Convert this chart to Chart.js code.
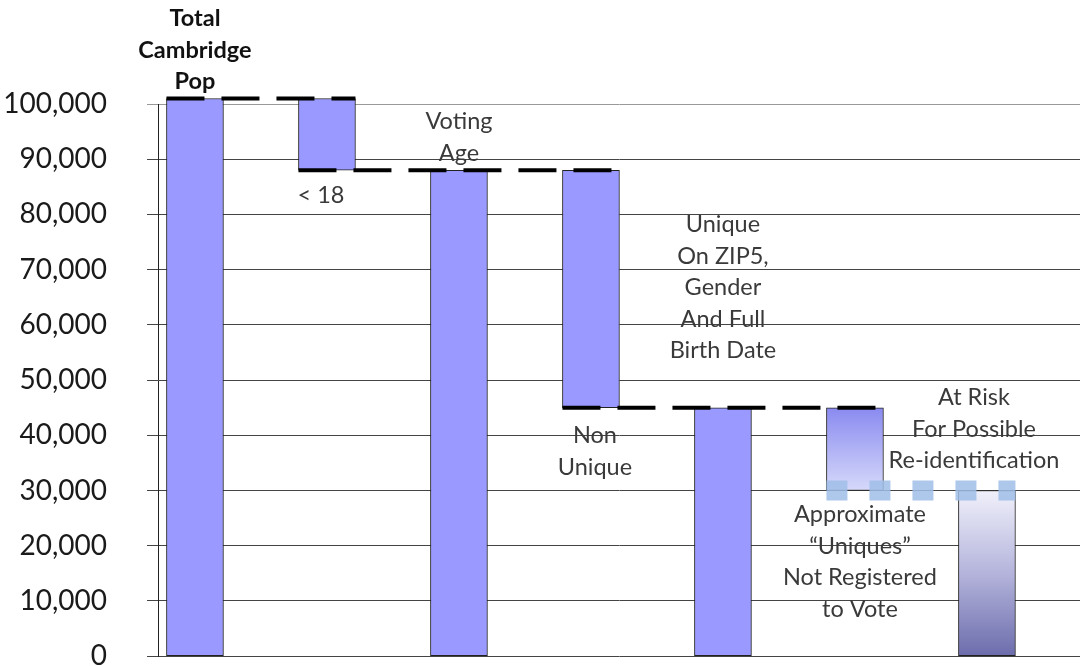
<!DOCTYPE html>
<html>
<head>
<meta charset="utf-8">
<script src="https://cdn.jsdelivr.net/npm/chart.js@4"></script>
<style>
  html, body { margin: 0; padding: 0; background: #fff; overflow: hidden; }
  #wrap { position: relative; width: 1090px; height: 713px; }
</style>
</head>
<body>
<div id="wrap"><canvas id="chart"></canvas></div>
<script>
// Waterfall: Cambridge population down to people at risk of re-identification

const categories = ['Total Cambridge Pop', '< 18', 'Voting Age', 'Non Unique',
  'Unique On ZIP5, Gender And Full Birth Date',
  'Approximate “Uniques” Not Registered to Vote',
  'At Risk For Possible Re-identification'];
const barLow  = [0, 88000, 0, 45000, 0, 30000, 0];
const barHigh = [101000, 101000, 88000, 88000, 45000, 45000, 30000];
const labelLines = [
  ['Total', 'Cambridge', 'Pop'],
  ['< 18'],
  ['Voting', 'Age'],
  ['Non', 'Unique'],
  ['Unique', 'On ZIP5,', 'Gender', 'And Full', 'Birth Date'],
  ['Approximate', '“Uniques”', 'Not Registered', 'to Vote'],
  ['At Risk', 'For Possible', 'Re-identification']
];

// where each caption sits relative to its bar (side, gap in px, x shift)
const labelPlace = [
  { side: 'top', gap: 17, dx: 0, bold: true },
  { side: 'bottom', gap: 25, dx: -6 },
  { side: 'top', gap: 17, dx: 0 },
  { side: 'bottom', gap: 28, dx: 4 },
  { side: 'top', gap: 57, dx: 0 },
  { side: 'bottom', gap: 24, dx: 5 },
  { side: 'top', gap: 30, dx: -13 }
];

const FONT = 'Lato, "Open Sans", sans-serif';

function barFill(ctx) {
  const i = ctx.dataIndex;
  const chart = ctx.chart;
  const y = chart.scales.y;
  if (!chart.chartArea || !y || (i !== 5 && i !== 6)) return '#9999ff';
  const top = y.getPixelForValue(barHigh[i]);
  const bot = y.getPixelForValue(barLow[i]);
  const g = chart.ctx.createLinearGradient(0, top, 0, bot);
  if (i === 5) {
    g.addColorStop(0, '#8a8af0');
    g.addColorStop(1, '#d6d9fa');
  } else {
    g.addColorStop(0, '#f0f0fb');
    g.addColorStop(0.5, '#b4b4dc');
    g.addColorStop(1, '#6c6cac');
  }
  return g;
}

// dashed level lines joining bars that share a level
const connectors = {
  id: 'connectors',
  afterDatasetsDraw(chart) {
    const ctx = chart.ctx;
    const y = chart.scales.y;
    const bars = chart.getDatasetMeta(0).data;
    const levels = [...new Set(barHigh.concat(barLow))].filter(v => v > 0).sort((a, b) => b - a);
    levels.forEach((v, li) => {
      const idx = [];
      barHigh.forEach((h, i) => { if (h === v || barLow[i] === v) idx.push(i); });
      if (idx.length < 2) return;
      const a = bars[Math.min(...idx)], b = bars[Math.max(...idx)];
      const x1 = a.x - a.width / 2, x2 = b.x + b.width / 2;
      const py = y.getPixelForValue(v);
      ctx.save();
      ctx.beginPath();
      if (li === levels.length - 1) {
        ctx.strokeStyle = 'rgba(160,190,232,0.85)';
        ctx.lineWidth = 20;
        ctx.setLineDash([21, 22]);
      } else {
        ctx.strokeStyle = '#000';
        ctx.lineWidth = 4;
        ctx.setLineDash([38, 17]);
      }
      ctx.moveTo(x1, py);
      ctx.lineTo(x2, py);
      ctx.stroke();
      ctx.restore();
    });
  }
};

// captions over / under each bar
const captions = {
  id: 'captions',
  afterDraw(chart) {
    const ctx = chart.ctx;
    const y = chart.scales.y;
    const bars = chart.getDatasetMeta(0).data;
    const lh = 31.5;
    ctx.save();
    ctx.textAlign = 'center';
    ctx.textBaseline = 'middle';
    labelLines.forEach((lines, i) => {
      const p = labelPlace[i];
      ctx.font = (p.bold ? 'bold ' : '') + '23.5px ' + FONT;
      ctx.fillStyle = p.bold ? '#111' : '#3a3a3a';
      const cx = bars[i].x + p.dx;
      let first;
      if (p.side === 'top') {
        first = y.getPixelForValue(barHigh[i]) - p.gap - lh * (lines.length - 1);
      } else {
        first = y.getPixelForValue(barLow[i]) + p.gap;
      }
      lines.forEach((t, k) => ctx.fillText(t, cx, first + k * lh));
    });
    ctx.restore();
  }
};

new Chart(document.getElementById('chart'), {
  type: 'bar',
  data: {
    datasets: [{
      data: categories.map((c, i) => ({ x: i, y: [barLow[i], barHigh[i]] })),
      backgroundColor: barFill,
      borderColor: '#222',
      borderWidth: 1,
      borderSkipped: false,
      barThickness: 57,
      clip: false
    }]
  },
  options: {
    responsive: true,
    maintainAspectRatio: false,
    animation: false,
    layout: { padding: { top: 104, bottom: 23, left: 0, right: 10 } },
    plugins: { legend: { display: false }, tooltip: { enabled: false } },
    scales: {
      x: {
        type: 'linear',
        display: false,
        offset: false,
        grid: { offset: false },
        min: -0.28,
        max: 6.705
      },
      y: {
        min: 0,
        max: 100000,
        afterFit: s => { s.width = 158; },
        border: { display: true, color: '#222', width: 1 },
        grid: {
          color: c => c.tick && c.tick.value === 100000 ? '#999' : '#444',
          lineWidth: 1,
          drawTicks: true,
          tickLength: 11
        },
        ticks: {
          stepSize: 10000,
          padding: 40,
          color: '#1a1a1a',
          font: { family: FONT, size: 28 },
          callback: v => v.toLocaleString('en-US')
        }
      }
    }
  },
  plugins: [connectors, captions]
});
</script>
</body>
</html>
